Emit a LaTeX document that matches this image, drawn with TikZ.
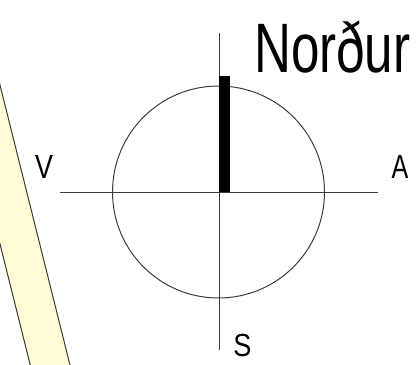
\documentclass[tikz,border=0pt]{standalone}
\usepackage{fontspec}
\setmainfont{Liberation Sans}
\definecolor{bandfill}{RGB}{255,252,214}
\definecolor{linegray}{RGB}{60,60,60}
\tikzset{
  axis/.style={draw=linegray, line width=1pt},
  lbl/.style={inner sep=0pt, anchor=base, font=\fontsize{33.5}{36}\selectfont},
}
\begin{document}
\begin{tikzpicture}[x=1pt,y=-1pt]
\useasboundingbox (0,0) rectangle (420,364);
\begin{scope}
  \clip (0,0) rectangle (420,364);
  \filldraw[fill=bandfill, draw=linegray, line width=1pt]
    (-10,45) -- (74.75,384) -- (35,384) -- (-49.75,45) -- cycle;
  \node[inner sep=0pt, anchor=base west, font=\fontsize{70}{74}\selectfont] (title) at (254,72) {\scalebox{0.73}[1]{Norður}};
\end{scope}
\coordinate (c) at (218.5,192);
\draw[axis] (c) circle[radius=106];
\coordinate (w) at (60,192);
\coordinate (e) at (378,192);
\coordinate (n) at (219,33);
\coordinate (s) at (219,350);
\draw[axis] (w) -- (e);
\draw[axis] (n) -- (s);
\fill[black] (219,76) rectangle (230,192);
\node[lbl] (V) at (44,178) {\scalebox{0.8}[1]{V}};
\node[lbl] (A) at (400,178) {\scalebox{0.75}[1]{A}};
\node[lbl, font=\fontsize{32}{34}\selectfont] (S) at (242.5,356) {\scalebox{0.85}[1]{S}};
\end{tikzpicture}
\end{document}
